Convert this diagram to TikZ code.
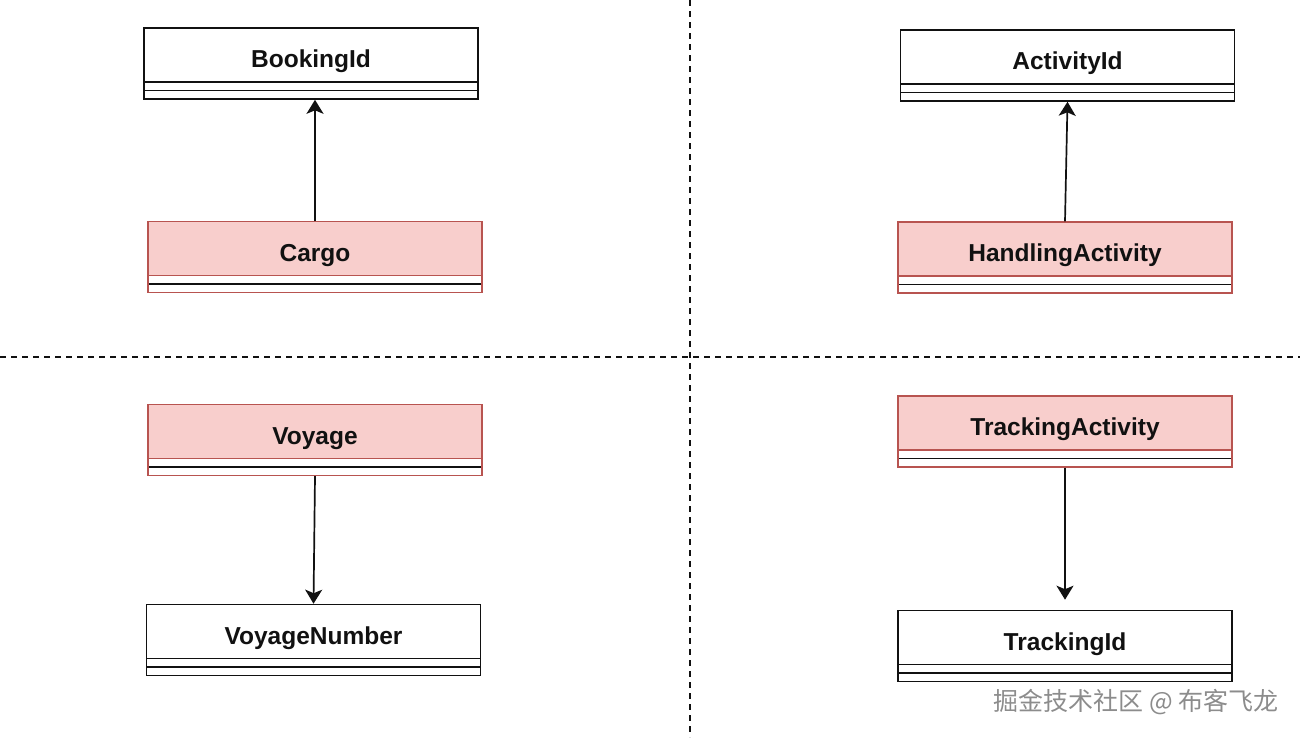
\documentclass[tikz,border=0pt]{standalone}
\usepackage{fontspec}
\setmainfont{Liberation Sans}
\newfontfamily\cjkfont{Noto Sans CJK SC}
\usepackage{xcolor}
\usepackage{tikz}
\usetikzlibrary{arrows.meta,calc,positioning}
\definecolor{ink}{HTML}{111111}
\definecolor{entityfill}{HTML}{F8CECC}
\definecolor{entityline}{HTML}{B85450}
\definecolor{markgray}{HTML}{8C8C8C}
\tikzset{
  link/.style={-{Stealth[length=14pt,width=17pt,inset=3.5pt]},line width=1.7pt,draw=ink},
  divider/.style={dash pattern=on 6pt off 5pt,line width=2pt,draw=ink},
  classbase/.style={rectangle,line width=1.6pt,minimum width=334pt,minimum height=71pt,
                    inner sep=0pt,text height=18pt,text depth=10pt,
                    font=\fontsize{24.5}{28}\selectfont\bfseries,text=ink},
  valuebox/.style={classbase,draw=ink,fill=white,
    path picture={
      \draw[ink,line width=1.6pt]
        ([yshift=17pt]path picture bounding box.south west)--([yshift=17pt]path picture bounding box.south east);
      \draw[ink,line width=1.6pt]
        ([yshift=8.5pt]path picture bounding box.south west)--([yshift=8.5pt]path picture bounding box.south east);
    }},
  entitybox/.style={classbase,draw=entityline,line width=1.3pt,fill=entityfill,
    path picture={
      \fill[white] (path picture bounding box.south west) rectangle
        ([yshift=17pt]path picture bounding box.south east);
      \draw[entityline,line width=1.3pt]
        ([yshift=17pt]path picture bounding box.south west)--([yshift=17pt]path picture bounding box.south east);
      \draw[ink,line width=1.6pt]
        ([yshift=8.5pt]path picture bounding box.south west)--([yshift=8.5pt]path picture bounding box.south east);
    }},
  watermark/.style={font=\cjkfont\fontsize{25}{28}\selectfont,text=markgray,inner sep=0pt}
}
\begin{document}
\begin{tikzpicture}[x=1pt,y=-1pt]
  \useasboundingbox (0,0) rectangle (1300,737);
  % quadrant separators
  \draw[divider] (690,0)--(690,737);
  \draw[divider] (0,357)--(1300,357);
  % top left
  \node[valuebox] (bookingid) at (311,63.5) {BookingId};
  \node[entitybox] (cargo) at (315,257) {Cargo};
  \draw[link] (cargo.north)--(cargo.north |- bookingid.south);
  % top right
  \node[valuebox] (activityid) at (1067.5,65.5) {ActivityId};
  \node[entitybox] (handling) at (1065,257.5) {HandlingActivity};
  \draw[link] (handling.north)--(activityid.south);
  % bottom left
  \node[entitybox] (voyage) at (315,440) {Voyage};
  \node[valuebox] (voyagenumber) at (313.5,640) {VoyageNumber};
  \draw[link] (voyage.south)--(voyagenumber.north);
  % bottom right
  \node[entitybox] (tracking) at (1065,431.5) {TrackingActivity};
  \node[valuebox] (trackingid) at (1065,646) {TrackingId};
  \draw[link,shorten >=10pt] (tracking.south)--(trackingid.north);
  \node[watermark,anchor=east] (mark) at (1279,702) {掘金技术社区 @ 布客飞龙};
\end{tikzpicture}
\end{document}
